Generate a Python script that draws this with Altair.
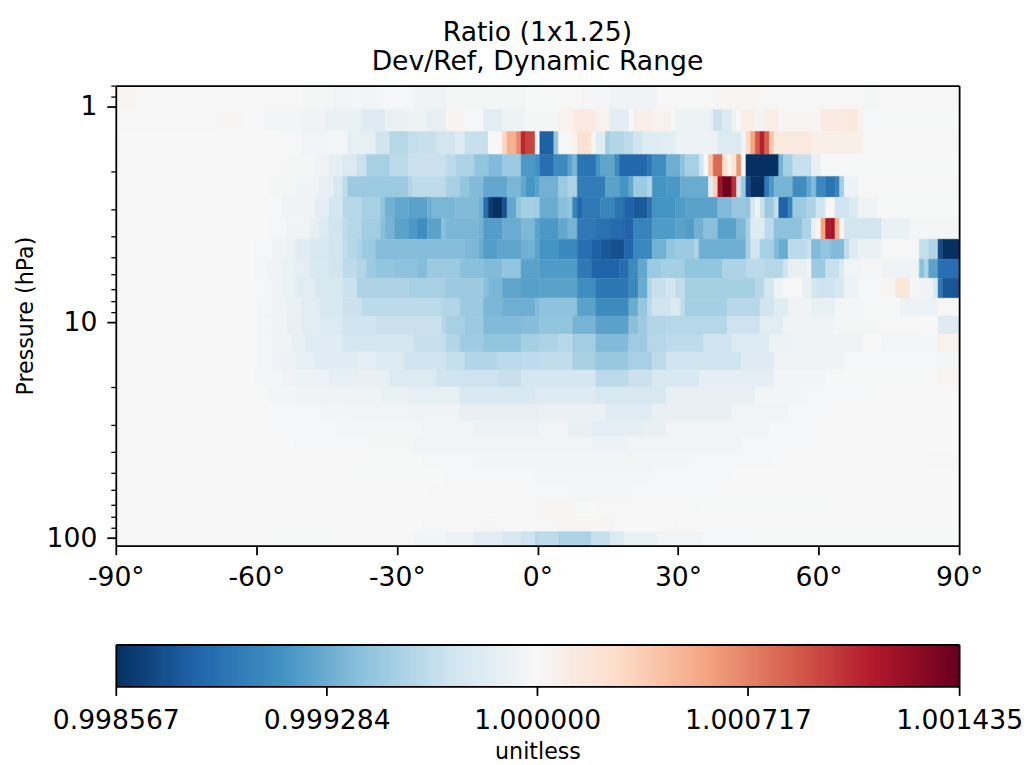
import numpy as np
import pandas as pd
import altair as alt

FONT = "DejaVu Sans"
TITLE_LINES = ["Ratio (1x1.25)", "Dev/Ref, Dynamic Range"]
STEP = 0.000287
BAR_TICKS = [0.998567, 0.999284, 1.0, 1.000717, 1.001435]
COLORS = ["#053061", "#2166ac", "#4393c3", "#92c5de", "#d1e5f0", "#f7f7f7",
          "#fddbc7", "#f4a582", "#d6604d", "#b2182b", "#67001f"]
MAJOR = [1, 10, 100]
MINOR = [0.8, 0.9, 2, 3, 4, 5, 6, 7, 8, 9, 20, 30, 40, 50, 60, 70, 80, 90]
LAT_TICKS = [-90, -60, -30, 0, 30, 60, 90]

# pressure edges of the levels, top to bottom (hPa)
P_EDGES = [0.80, 1.03, 1.305, 1.667, 2.108, 2.636, 3.297, 4.123, 5.10, 6.25, 7.73, 9.36, 11.34,
           13.73, 16.64, 19.94, 23.9, 28.6, 33.96, 40.3, 47.8, 56.6, 67.1, 79.6, 93.4, 108.5]

# each level: (latitude where a run starts, deviation from 1 in colour-stop units)
L00 = [(-90,.1),(-85.5,-.03),(-50.5,-.08),(-43.5,-.15),(-39.5,-.12),(-33.5,-.06),(-26.5,-.2),(-19.5,-.08),(-2.5,-.02),(4.5,.03),(9.5,-.1),(15.5,-.2),(25.5,-.03),(38.5,.12),(47.5,.02),(69.5,-.08),(73.5,.02)]
L01 = [(-90,.03),(-67.5,.06),(-62.5,0),(-58.5,-.12),(-50.5,-.2),(-45.5,-.35),(-37.5,-.65),(-32.5,-.35),(-28.5,-.25),(-23.5,-.45),(-19.5,.15),(-15.5,-.05),(-11.5,-.55),(-7.5,-.25),(-2.5,-.08),(4.5,.2),(7.5,.45),(12.5,.2),(15.5,-.55),(19.5,0),(20.5,.3),(24.5,.18),(28.5,-.02),(29.5,-.25),(36.5,-.4),(37.5,-1.1),(39.5,-.7),(41.5,-.25),(42.5,0),(43.5,.35),(46.5,-.15),(48.5,.35),(51.5,.12),(60.5,.45),(65.5,.55),(68.5,.2),(69.5,-.05),(73.5,-.02)]
L02 = [(-90,.01),(-54.5,-.03),(-50.5,-.18),(-44.5,-.1),(-40.5,-.45),(-34.5,-1),(-31.5,-1.45),(-27.5,-1.2),(-25.5,-1.15),(-21.5,-.95),(-17.5,-.65),(-15.5,-1.15),(-10.5,0),(-7.5,1.1),(-6.5,1.8),(-4.5,2.4),(-3.5,3.8),(-2.5,3.4),(-.5,0),(.5,-4.1),(3.5,-1.9),(4.5,.02),(7.5,.15),(8.5,.75),(11.5,.05),(12.5,-.55),(14.5,-1.7),(15.5,-1.5),(18.5,-1.3),(20.5,-1),(22.5,-.6),(26.5,-.55),(29.5,-.3),(38.5,-.7),(43.5,-.15),(44.5,1),(45.5,2),(46.5,3.1),(47.5,3.9),(48.5,3),(49.5,1.4),(50.5,.5),(58.5,.3),(69.5,.02)]
L03 = [(-90,0),(-54.5,-.08),(-47.5,-.2),(-44.5,-.45),(-41.5,-.7),(-38.5,-1.1),(-36.5,-1.65),(-31.5,-1.35),(-27.5,-1.1),(-19.5,-1.3),(-17.5,-1.55),(-13.5,-2),(-10.5,-2.2),(-7.5,-1.85),(-3.5,-2.9),(-.5,-3.1),(.5,-3.8),(3.5,-3.2),(6.5,-2.7),(7.5,-2.3),(8.5,-3.7),(12.5,-3),(13.5,-2.65),(16.5,-3.2),(17.5,-3.95),(23.5,-3.6),(24.5,-3.15),(27.5,-2.45),(30.5,-2.05),(31.5,-1.65),(34.5,-1),(35.5,0),(36.5,1.4),(37.5,2.85),(39.5,.85),(40.5,.1),(41.5,.7),(42.5,2.2),(43.5,0),(44.5,-5),(51.5,-2.35),(52.5,-1.7),(54.5,-1.15),(58.5,-.4),(60.5,-.02)]
L04 = [(-90,0),(-57.5,-.08),(-51.5,-.2),(-46.5,-.45),(-43.5,-.85),(-41.5,-1.3),(-40.5,-1.85),(-27.5,-1.5),(-26.5,-1.3),(-19.5,-1.65),(-16.5,-2),(-14.5,-2.2),(-11.5,-2.6),(-6.5,-2.3),(-3.5,-2.6),(-2.5,-2.95),(-.5,-2.7),(.5,-2.4),(4.5,-1.85),(6.5,-1.55),(8.5,-3.5),(14.5,-2.7),(17.5,-3),(19.5,-2.6),(20.5,-1.85),(23.5,-1.5),(24.5,-3),(27.5,-2.9),(30.5,-2.5),(36.5,-.5),(37.5,1.2),(38.5,4.2),(39.5,4.9),(41.5,3.7),(42.5,-1),(43.5,-1.9),(44.5,-4.5),(45.5,-5),(48.5,-3.6),(49.5,-2.9),(50.5,-2.35),(54.5,-3.15),(57.5,-2.6),(58.5,-2.2),(59.5,-3.25),(61.5,-3.7),(63.5,-3.3),(64.5,-1.7),(65.5,-.3),(68.5,-.03)]
L05 = [(-90,0),(-58.5,-.07),(-54.5,-.2),(-47.5,-.5),(-44.5,-.9),(-41.5,-1.45),(-37.5,-1.65),(-33.5,-2),(-32.5,-2.4),(-30.5,-2.6),(-27.5,-2.7),(-23.5,-2.45),(-22.5,-2.3),(-17.5,-2.2),(-12.5,-2.4),(-11.5,-3.8),(-10.5,-4.8),(-9.5,-5),(-7.5,-4.4),(-6.5,-2.6),(-4.5,-2),(-3.5,-1.7),(-.5,-1.75),(.5,-2.5),(4.5,-2.1),(6.5,-2),(7.5,-3.3),(8.5,-4),(9.5,-3.6),(13.5,-3.3),(16.5,-3.7),(18.5,-4.05),(20.5,-4.25),(23.5,-3.75),(24.5,-3),(29.5,-2.85),(31.5,-2.7),(38.5,-2.2),(41.5,-1.9),(44.5,-2),(45.5,-.85),(46.5,-.2),(47.5,-1.1),(48.5,-1.85),(50.5,-1.2),(51.5,-4.05),(53.5,-3.35),(54.5,-1.85),(57.5,-1.55),(59.5,-1),(61.5,-.1),(62.5,0),(63.5,-1),(66.5,-.7),(68.5,-.2),(72.5,-.02)]
L06 = [(-90,0),(-57.5,-.07),(-53.5,-.2),(-48.5,-.45),(-46.5,-.7),(-44.5,-1),(-41.5,-1.3),(-40.5,-1.45),(-37.5,-1.75),(-33.5,-2.1),(-32.5,-2.35),(-30.5,-2.7),(-27.5,-2.9),(-25.5,-3.15),(-23.5,-2.7),(-20.5,-2.1),(-19.5,-2.3),(-12.5,-2.4),(-11.5,-2.8),(-7.5,-2.5),(-3.5,-2.25),(-.5,-2.7),(.5,-2.9),(4.5,-2.6),(6.5,-2.35),(8.5,-3.6),(12.5,-3.75),(15.5,-3.9),(18.5,-4.05),(20.5,-3.35),(24.5,-2.85),(29.5,-2.7),(31.5,-2.8),(33.5,-2.4),(35.5,-2.1),(38.5,-2.7),(42.5,-2.25),(44.5,-1.65),(45.5,-.65),(48.5,-1.3),(50.5,-2.05),(56.5,-1.55),(58.5,-.4),(59.5,.1),(60.5,2),(61.5,4),(62.5,4.2),(63.5,1.8),(64.5,-.1),(65.5,-.95),(73.5,-.35),(79.5,-.1)]
L07 = [(-90,0),(-60.5,-.07),(-56.5,-.2),(-53.5,-.35),(-51.5,-.6),(-48.5,-.85),(-44.5,-1),(-41.5,-1.25),(-40.5,-1.45),(-38.5,-1.6),(-37.5,-1.85),(-34.5,-2.15),(-15.5,-2.25),(-12.5,-2.5),(-11.5,-2.8),(-8.5,-2.65),(-3.5,-2.4),(-.5,-2.7),(.5,-3),(4.5,-3.25),(8.5,-3.8),(11.5,-4.1),(13.5,-4.25),(15.5,-4.4),(18.5,-4),(20.5,-3.25),(24.5,-2.4),(27.5,-2),(29.5,-1.85),(33.5,-1.55),(34.5,-2.45),(44.5,-1.65),(45.5,-1),(47.5,-1.65),(50.5,-2.2),(51.5,-2.5),(53.5,-1.35),(57.5,-1.15),(58.5,-2.2),(60.5,-2),(62.5,-2.2),(65.5,-1.3),(66.5,-.6),(68.5,-.35),(73.5,.03),(79.5,-.05),(81.5,-1.2),(83.5,-1.5),(85.5,-4.5),(86.5,-5)]
L08 = [(-90,0),(-60.5,-.1),(-57.5,-.2),(-54.5,-.35),(-51.5,-.5),(-48.5,-.8),(-44.5,-1),(-41.5,-1.3),(-38.5,-1.5),(-36.5,-1.85),(-34.5,-2),(-30.5,-2.05),(-25.5,-2.15),(-23.5,-1.85),(-16.5,-2.1),(-11.5,-2.2),(-7.5,-2),(-3.5,-2.7),(.5,-2.85),(8.5,-3.6),(11.5,-4.05),(17.5,-3.85),(19.5,-3.2),(21.5,-2.6),(23.5,-1.85),(26.5,-1.7),(31.5,-2),(39.5,-1.55),(44.5,-1.35),(48.5,-1.45),(52.5,-1),(53.5,-.4),(57.5,-.2),(58.5,-1.85),(61.5,-1.15),(64.5,-.7),(65.5,-.15),(69.5,-.08),(73.5,-.2),(81.5,-2.1),(82.5,-1.55),(83.5,-2.7),(85.5,-3.8)]
L09 = [(-90,0),(-61.5,-.03),(-58.5,-.1),(-56.5,-.2),(-54.5,-.35),(-51.5,-.55),(-47.5,-.85),(-41.5,-1.1),(-38.5,-1.55),(-27.5,-1.65),(-19.5,-1.85),(-11.5,-2.1),(-10.5,-2.3),(-7.5,-2.65),(-3.5,-2.75),(.5,-2.7),(8.5,-3.15),(12.5,-3.65),(19.5,-3.25),(21.5,-2.5),(23.5,-1.45),(24.5,-1.15),(27.5,-.95),(29.5,-1.25),(31.5,-1.7),(46.5,-1.45),(48.5,-.9),(50.5,-.3),(52.5,-.03),(56.5,-.4),(58.5,-.9),(59.5,-1.05),(63.5,-.8),(65.5,-.3),(68.5,-.07),(73.5,.1),(76.5,.6),(79.5,.08),(81.5,-.2),(84.5,-.8),(85.5,-3.6),(86.5,-4.3)]
L10 = [(-90,0),(-61.5,-.03),(-59.5,-.1),(-56.5,-.2),(-53.5,-.35),(-50.5,-.55),(-46.5,-.8),(-41.5,-1.1),(-37.5,-1.35),(-20.5,-1.5),(-16.5,-1.85),(-11.5,-2.3),(-7.5,-2.45),(-.5,-2.2),(.5,-2.05),(8.5,-2.7),(12.5,-3.2),(19.5,-2.5),(21.5,-1.95),(23.5,-1.3),(24.5,-1),(28.5,-.7),(30.5,-1.25),(31.5,-1.7),(40.5,-1.4),(47.5,-1),(50.5,-.6),(53.5,-.2),(58.5,-.4),(63.5,-.1),(69.5,-.02),(77.5,-.3),(85.5,.05)]
L11 = [(-90,0),(-61.5,-.03),(-59.5,-.1),(-56.5,-.2),(-53.5,-.4),(-50.5,-.55),(-46.5,-.7),(-41.5,-1),(-34.5,-1.1),(-20.5,-1.4),(-19.5,-1.65),(-15.5,-1.85),(-11.5,-2.2),(-3.5,-2.15),(.5,-2),(7.5,-2.35),(12.5,-2.7),(19.5,-2.1),(21.5,-1.8),(23.5,-1.5),(27.5,-1.45),(40.5,-1.05),(47.5,-.55),(52.5,-.2),(63.5,-.08),(73.5,-.03),(81.5,-.01),(85.5,-.65)]
L12 = [(-90,0),(-61.5,-.03),(-59.5,-.1),(-56.5,-.2),(-52.5,-.4),(-49.5,-.6),(-41.5,-.9),(-26.5,-1.15),(-19.5,-1.5),(-16.5,-1.8),(-11.5,-2),(-3.5,-1.7),(.5,-1.55),(4.5,-1.4),(7.5,-1.75),(12.5,-2.2),(19.5,-1.8),(23.5,-1.45),(27.5,-1.3),(35.5,-1),(41.5,-.7),(49.5,-.3),(54.5,-.2),(69.5,0),(73.5,-.1),(85.5,.2)]
L13 = [(-90,.01),(-61.5,-.03),(-59.5,-.1),(-56.5,-.2),(-54.5,-.3),(-51.5,-.45),(-47.5,-.6),(-38.5,-.5),(-34.5,-.7),(-28.5,-1),(-19.5,-1.2),(-15.5,-1.5),(-8.5,-1.35),(-3.5,-1.3),(.5,-1.25),(7.5,-1.65),(12.5,-1.9),(19.5,-1.65),(24.5,-1.3),(27.5,-1),(43.5,-.65),(50.5,-.2),(65.5,-.05),(85.5,-.08)]
L14 = [(-90,0),(-60.5,-.1),(-54.5,-.2),(-51.5,-.3),(-44.5,-.42),(-38.5,-.38),(-31.5,-.7),(-21.5,-1),(-16.5,-1.05),(-8.5,-1.15),(-3.5,-.9),(12.5,-1.35),(19.5,-1.1),(24.5,-.8),(34.5,-.5),(50.5,-.12),(61.5,-.02),(85.5,.1)]
L15 = [(-90,0),(-57.5,-.12),(-51.5,-.2),(-33.5,-.35),(-27.5,-.45),(-16.5,-.8),(-.5,-.65),(12.5,-.85),(27.5,-.4),(46.5,-.12),(57.5,-.04),(71.5,0)]
L16 = [(-90,0),(-58.5,-.07),(-46.5,-.12),(-40.5,-.18),(-27.5,-.22),(-16.5,-.42),(.5,-.35),(14.5,-.6),(24.5,-.4),(41.5,-.15),(53.5,-.05),(61.5,0)]
L17 = [(-90,0),(-55.5,-.04),(-42.5,-.1),(-24.5,-.18),(-13.5,-.3),(.5,-.15),(6.5,-.4),(11.5,-.5),(22.5,-.4),(27.5,-.15),(49.5,-.05),(58.5,0),(81.5,.01)]
L18 = [(-90,0),(-51.5,-.04),(-35.5,-.08),(-26.5,-.15),(11.5,-.28),(19.5,-.15),(43.5,-.07),(59.5,0)]
L19 = [(-90,0),(-36.5,-.02),(-24.5,-.07),(-13.5,-.12),(32.5,-.06),(50.5,0),(83.5,.02)]
L20 = [(-90,0),(-41.5,-.02),(-19.5,-.06),(-.5,-.1),(24.5,-.06),(41.5,0),(73.5,.01)]
L21 = [(-90,0),(-23.5,-.03),(-.5,-.05),(6.5,-.1),(19.5,-.05),(39.5,0)]
L22 = [(-90,0),(-79.5,.02),(-76.5,0),(-46.5,-.03),(-30.5,0),(-5.5,.03),(.5,.1),(8.5,-.02),(12.5,-.03),(34.5,-.02),(65.5,.01)]
L23 = [(-90,0),(-24.5,.03),(-18.5,.02),(-11.5,.06),(-8.5,.02),(3.5,.08),(16.5,0),(29.5,-.01)]
L24 = [(-90,.01),(-58.5,-.02),(-45.5,-.05),(-41.5,-.03),(-26.5,-.12),(-19.5,-.3),(-13.5,-.55),(-7.5,-.8),(-3.5,-1.05),(-.5,-1.4),(.5,-1.3),(4.5,-1.6),(11.5,-1.15),(15.5,-.7),(18.5,-.35),(25.5,-.15),(35.5,-.05),(47.5,-.02)]
LEVELS = [L00, L01, L02, L03, L04, L05, L06, L07, L08, L09, L10, L11, L12,
          L13, L14, L15, L16, L17, L18, L19, L20, L21, L22, L23, L24]

records = []
for i, runs in enumerate(LEVELS):
    for j, (lat, lev) in enumerate(runs):
        end = runs[j + 1][0] if j + 1 < len(runs) else 90
        records.append({"lat0": lat, "lat1": end, "p0": P_EDGES[i], "p1": P_EDGES[i + 1],
                        "ratio": 1 + lev * STEP})
cells = pd.DataFrame(records)

color_domain = [1 + k * STEP for k in range(-5, 6)]
cscale = alt.Scale(domain=color_domain, range=COLORS, interpolate="rgb", clamp=True)
xscale = alt.Scale(domain=[-90, 90], nice=False, zero=False)
yscale = alt.Scale(type="log", domain=[108.5, 0.8], nice=False)

W, H = 845, 461
LW = 1.78
LABEL = 26.67
TITLE = 26.67
AXT = 22.2

axcommon = dict(grid=False, domainColor="black", tickColor="black", domainWidth=LW, tickWidth=LW,
                labelColor="black", labelFont=FONT, labelFontSize=LABEL, titleFont=FONT,
                titleFontWeight="normal", titleColor="black", labelFlush=False, zindex=1)

rects = alt.Chart(cells).mark_rect(strokeWidth=0.5, clip=True).encode(
    x=alt.X("lat0:Q", scale=xscale, axis=alt.Axis(orient="bottom", values=LAT_TICKS, title=None, tickSize=9,
            labelExpr="datum.value + '°'", labelPadding=10, **axcommon)),
    x2="lat1:Q",
    y=alt.Y("p0:Q", scale=yscale, axis=alt.Axis(orient="left", values=MAJOR, title="Pressure (hPa)", tickSize=9,
            labelExpr="format(datum.value, 'd')", labelPadding=10, titleFontSize=AXT, titlePadding=9, **axcommon)),
    y2="p1:Q",
    color=alt.Color("ratio:Q", scale=cscale, legend=None),
    stroke=alt.Stroke("ratio:Q", scale=cscale, legend=None),
)

minor = alt.Chart(pd.DataFrame({"p": MINOR})).mark_rule(opacity=0).encode(
    y=alt.Y("p:Q", scale=yscale, axis=alt.Axis(orient="left", values=MINOR, title=None, labels=False,
            domain=False, tickSize=5, tickColor="black", tickWidth=1.3, grid=False, zindex=1)),
)
frame_data = pd.DataFrame({"lat": [-90, 90], "p": [0.8, 108.5]})
frame_top = alt.Chart(frame_data).mark_point(opacity=0).encode(
    x=alt.X("lat:Q", scale=xscale, axis=alt.Axis(orient="top", title=None, labels=False, ticks=False, grid=False,
            domainColor="black", domainWidth=LW, zindex=1)),
    y=alt.Y("p:Q", scale=yscale, axis=alt.Axis(orient="right", title=None, labels=False, ticks=False, grid=False,
            domainColor="black", domainWidth=LW, zindex=1)),
)

heat = alt.layer(rects, minor, frame_top).resolve_axis(x="independent", y="independent").properties(
    width=W, height=H,
    title=alt.TitleParams(text=TITLE_LINES, font=FONT, fontSize=TITLE, fontWeight="normal", color="black",
                          anchor="middle", lineHeight=29, offset=7),
)

bar_lo, bar_hi = BAR_TICKS[0], BAR_TICKS[-1]
bar_edges = np.linspace(bar_lo, bar_hi, 257)
bar = pd.DataFrame({"a": bar_edges[:-1], "b": np.minimum(bar_edges[1:] + (bar_edges[1] - bar_edges[0]), bar_hi),
                    "c": (bar_edges[:-1] + bar_edges[1:]) / 2})
bx = alt.Scale(domain=[bar_lo, bar_hi], nice=False, zero=False)

bar_rects = alt.Chart(bar).mark_rect(clip=True).encode(
    x=alt.X("a:Q", scale=bx, axis=alt.Axis(orient="bottom", values=BAR_TICKS, format=".6f", title="unitless", tickSize=9,
            labelPadding=12, titleFontSize=AXT, titlePadding=7, **axcommon)),
    x2="b:Q",
    color=alt.Color("c:Q", scale=cscale, legend=None),
)
bar_frame = alt.Chart(pd.DataFrame({"a": [bar_lo, bar_hi], "y": [0, 1]})).mark_point(opacity=0).encode(
    x=alt.X("a:Q", scale=bx, axis=alt.Axis(orient="top", title=None, labels=False, ticks=False, grid=False,
            domainColor="black", domainWidth=LW, zindex=1)),
    y=alt.Y("y:Q", scale=alt.Scale(domain=[0, 1], nice=False), axis=alt.Axis(orient="left", title=None, labels=False,
            ticks=False, grid=False, domainColor="black", domainWidth=LW, zindex=1)),
)
bar_frame2 = alt.Chart(pd.DataFrame({"y": [0, 1]})).mark_point(opacity=0).encode(
    y=alt.Y("y:Q", scale=alt.Scale(domain=[0, 1], nice=False), axis=alt.Axis(orient="right", title=None, labels=False,
            ticks=False, grid=False, domainColor="black", domainWidth=LW, zindex=1)),
)
cbar = alt.layer(bar_rects, bar_frame, bar_frame2).resolve_axis(x="independent", y="independent").properties(width=W, height=42)

chart = alt.vconcat(heat, cbar, spacing=99, bounds="flush").resolve_scale(color="independent", stroke="independent").properties(
    background="white", padding={"left": 6, "top": 11, "right": 0, "bottom": 0},
).configure_view(stroke=None)

chart.save("out.html", embed_options={"renderer": "svg", "actions": False})
